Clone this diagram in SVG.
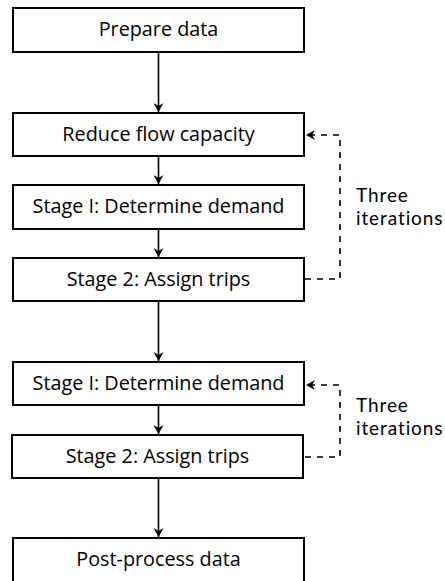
<svg xmlns="http://www.w3.org/2000/svg" width="445" height="581" viewBox="0 0 445 581">
<defs>
<style>
.box{fill:#fff;stroke:#000;stroke-width:2}
.lbl{font-family:"Open Sans","Noto Sans",sans-serif;font-size:19.8px;fill:#000;text-anchor:middle}
.side{font-family:Lato,"Open Sans",sans-serif;font-size:19px;letter-spacing:0.9px;fill:#000}
.flow{fill:none;stroke:#000;stroke-width:1.6}
.loop{fill:none;stroke:#000;stroke-width:1.6;stroke-dasharray:6,6}
</style>
<marker id="ah" viewBox="0 0 10 10" refX="10" refY="5" markerWidth="10" markerHeight="10" markerUnits="userSpaceOnUse" orient="auto">
<path d="M10,5 L1,0 L4,5 L1,10 Z" fill="#000"/>
</marker>
</defs>
<rect width="445" height="581" fill="#fff"/>
<g id="connectors">
<line class="flow" x1="158.5" y1="52" x2="158.5" y2="112" marker-end="url(#ah)"/>
<line class="flow" x1="158.5" y1="156" x2="158.5" y2="184" marker-end="url(#ah)"/>
<line class="flow" x1="158.5" y1="229" x2="158.5" y2="257" marker-end="url(#ah)"/>
<line class="flow" x1="158.5" y1="301" x2="158.5" y2="361" marker-end="url(#ah)"/>
<line class="flow" x1="158.5" y1="405" x2="158.5" y2="434" marker-end="url(#ah)"/>
<line class="flow" x1="158.5" y1="478" x2="158.5" y2="537" marker-end="url(#ah)"/>
<path class="loop" d="M305,279 H340 V135 H306" marker-end="url(#ah)"/>
<path class="loop" d="M305,457 H340 V385 H306" marker-end="url(#ah)"/>
</g>
<g id="prepare"><rect class="box" x="13" y="8" width="291" height="44"/><text class="lbl" x="158.5" y="36">Prepare data</text></g>
<g id="reduce"><rect class="box" x="13" y="113" width="291" height="43"/><text class="lbl" x="158.5" y="141">Reduce flow capacity</text></g>
<g id="stage1a"><rect class="box" x="13" y="185" width="291" height="44"/><text class="lbl" x="158.5" y="213">Stage I: Determine demand</text></g>
<g id="stage2a"><rect class="box" x="13" y="258" width="291" height="43"/><text class="lbl" x="158.5" y="286">Stage 2: Assign trips</text></g>
<g id="stage1b"><rect class="box" x="13" y="362" width="291" height="43"/><text class="lbl" x="158.5" y="390">Stage I: Determine demand</text></g>
<g id="stage2b"><rect class="box" x="12" y="435" width="291" height="43"/><text class="lbl" x="157.5" y="463">Stage 2: Assign trips</text></g>
<g id="post"><rect class="box" x="13" y="538" width="291" height="50"/><text class="lbl" x="158.5" y="566">Post-process data</text></g>
<g id="iter1"><text class="side" x="356" y="202">Three</text><text class="side" x="356" y="225">iterations</text></g>
<g id="iter2"><text class="side" x="356" y="412">Three</text><text class="side" x="356" y="435">iterations</text></g>
</svg>
